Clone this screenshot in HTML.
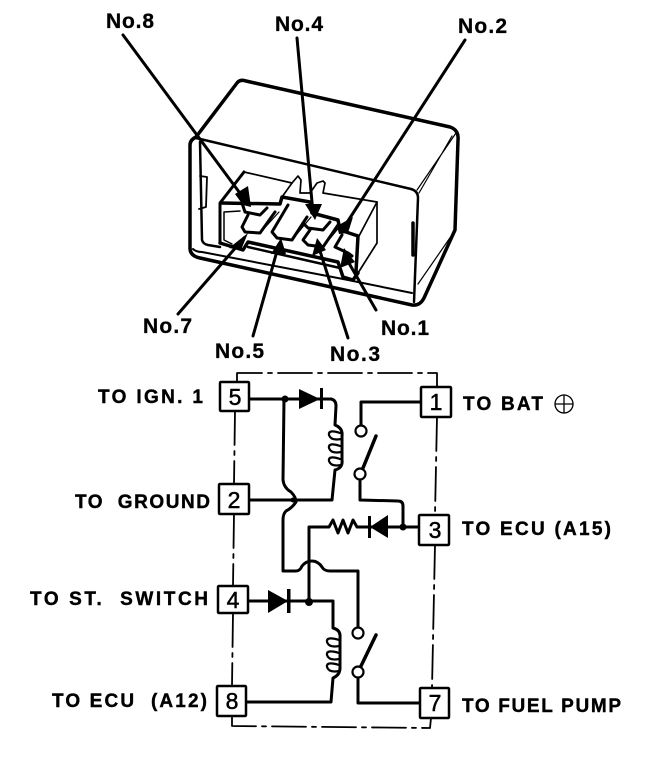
<!DOCTYPE html>
<html><head><meta charset="utf-8"><style>
html,body{margin:0;padding:0;background:#fff}
svg{display:block}
text{font-family:"Liberation Sans",sans-serif;font-weight:bold;fill:#000}
.l{font-size:19px;stroke:#000;stroke-width:.4}
.m{font-size:21px;stroke:#000;stroke-width:.3}
.n{font-size:23px;font-weight:normal;text-anchor:middle;stroke:#000;stroke-width:.5}
path,polyline,line,rect,circle{stroke-linejoin:round;stroke-linecap:round}
</style></head><body>
<svg width="672" height="760" viewBox="0 0 672 760" xmlns="http://www.w3.org/2000/svg">
<rect width="672" height="760" fill="#fff"/>
<!-- housing -->
<g fill="none" stroke="#000">
<path stroke-width="3.5" d="M196 137L237 83Q240 79 246 81L450 127Q459 130 458 140L455 230L424 298Q420 306 412 305L200 258Q190 256 190 248L190 145Q190 140 196 137Z"/>
<path stroke-width="2.5" d="M196 138L411 189Q418 191 418 198L414 302"/>
<path stroke-width="1.2" d="M417 190L456 133M419 193L452 136M418 284L454 232"/>
<path stroke-width="2.5" d="M200 142L202 240Q203 244 208 245L220 247"/>
<path stroke-width="2" d="M193 249Q196 252 202 252L343 279L412 293"/>
<path stroke-width="1.8" d="M200 176L207 177L206 207L199 209"/>
<path stroke-width="3.5" d="M413 223L413 255"/>
<path stroke-width="3.5" d="M220 243L243 250L248 242L338 262L343 277L353 280L358 273"/>
<path stroke-width="2.5" d="M248 247L340 268"/>
<!-- connector -->
<path stroke-width="3" d="M220 243L220 203L244 172"/>
<path stroke-width="1.7" d="M244 172L292 183L298 176L301 180L300 193L310 193"/>
<path stroke-width="1.7" d="M282 197L292 183"/>
<path stroke-width="1.7" d="M310 193L317 183L323 181L325 183L323 193L377 202L377 243L358 273"/>
<path stroke-width="1.7" d="M359 236L377 202"/>
<path stroke-width="3.5" d="M221 203L280 204L282 197L310 202L312 213L338 220L340 230L358 236L356 272"/>
<path stroke-width="1.5" d="M224 212L240 211M224 212L224 240L232 244"/>
<!-- pins -->
<path stroke-width="3" d="M242 203L245 212L260 215L267 208"/>
<path stroke-width="3" d="M248 215L242 227L245 232L260 233L275 212"/>
<path stroke-width="3" d="M288 205L272 232L277 238L292 240L307 217"/>
<path stroke-width="3" d="M303 223L308 228L323 230L330 222"/>
<path stroke-width="3" d="M310 230L303 240L308 245L323 247L338 225"/>
<path stroke-width="3" d="M342 235L335 247L348 253L352 256"/>
<path stroke-width="1.2" d="M260 233L279 212M292 240L311 217M323 247L341 225"/>
<!-- leaders -->
<path stroke-width="3" d="M123 35L245 200M297 38L313 213M465 40L346 224M178 314L244 238M253 336L279 244M348 338L319 248M376 310L346 258"/>
</g>
<g fill="#000">
<polygon points="235,194 248,186 251,207 243,205"/>
<polygon points="305,204 322,204 315,220"/>
<polygon points="337,226 353,217 348,233 339,234"/>
<polygon points="229,248 248,233 241,250"/>
<polygon points="271,254 286,254 281,238"/>
<polygon points="312,256 326,250 317,238"/>
<polygon points="340,268 355,262 344,248"/>
</g>
<!-- labels -->
<g>
<text class="m" x="106" y="28" textLength="48">No.8</text>
<text class="m" x="275" y="31" textLength="48">No.4</text>
<text class="m" x="458" y="33" textLength="49">No.2</text>
<text class="m" x="143" y="333" textLength="49">No.7</text>
<text class="m" x="215" y="358" textLength="49">No.5</text>
<text class="m" x="330" y="361" textLength="50">No.3</text>
<text class="m" x="381" y="335" textLength="48">No.1</text>
<text class="l" x="98" y="403" textLength="105">TO IGN. 1</text>
<text class="l" x="75" y="508" textLength="135" xml:space="preserve">TO  GROUND</text>
<text class="l" x="30" y="605" textLength="178" xml:space="preserve">TO ST.  SWITCH</text>
<text class="l" x="52" y="707" textLength="155" xml:space="preserve">TO ECU  (A12)</text>
<text class="l" x="463" y="410" textLength="80">TO BAT</text>
<text class="l" x="462" y="535" textLength="149">TO ECU (A15)</text>
<text class="l" x="462" y="712" textLength="159">TO FUEL PUMP</text>
</g>
<g fill="none" stroke="#000" stroke-width="1.3"><circle cx="564" cy="404" r="9"/><path d="M555 404H573M564 395V413"/></g>
<!-- dash-dot outline -->
<g fill="none" stroke="#000" stroke-width="1.8" stroke-dasharray="34 6 4 6">
<path d="M237 382L237 373L437 373L437 387"/>
<path d="M235 411L234 484"/>
<path d="M234 514L233 586"/>
<path d="M233 613L232 686"/>
<path d="M437 417L435 515"/>
<path d="M435 545L432 688"/>
<path d="M232 716L232 726L430 728L431 718"/>
</g>
<!-- circuit -->
<g fill="none" stroke="#000" stroke-width="3">
<path d="M249 399H321L331 399Q336 400 336 406L335 425Q343 428 342 436L342 460Q343 468 335 470L332 500H249"/>
<path d="M284 399L283 480Q284 488 291 492Q296 497 296 502Q292 508 286 511Q283 514 283 520L283 571H296Q300 571 302 566Q306 561 312 561Q318 561 322 567Q324 571 330 571H358V627"/>
<path d="M309 602L309 527H325L329 527L333 520L338 533L343 520L348 533L353 520L357 527L369 527"/>
<path d="M369 527H419"/>
<path d="M403 527L403 506Q403 501 398 501L360 500V480"/>
<path d="M361 425V402H421"/>
<path d="M363 468L376 436" stroke-width="3.5"/>
<path d="M248 601H333V628Q341 630 340 638L340 668Q340 675 333 678L331 702H246"/>
<path d="M361 666L376 635" stroke-width="3.5"/>
<path d="M358 678V703H420"/>
<path stroke-width="2.2" d="M340 433Q328 429 329 435Q331 441 341 439M340 446Q328 442 329 448Q331 454 341 452M340 459Q328 455 329 461Q331 467 341 465"/>
<path stroke-width="2.2" d="M339 640Q326 636 327 642Q329 648 339 646M339 653Q326 649 327 655Q329 661 339 659M339 665Q326 661 327 667Q329 673 339 671"/>
<circle cx="361" cy="431" r="5.5" fill="#fff" stroke-width="2.2"/>
<circle cx="360" cy="474" r="5.5" fill="#fff" stroke-width="2.2"/>
<circle cx="358" cy="633" r="5.5" fill="#fff" stroke-width="2.2"/>
<circle cx="358" cy="672" r="5.5" fill="#fff" stroke-width="2.2"/>
</g>
<g fill="#000">
<circle cx="285" cy="399" r="3.5"/><circle cx="403" cy="527" r="3.5"/><circle cx="309" cy="602" r="4"/><circle cx="293" cy="500" r="2.5"/>
<polygon points="299,389 299,409 320,399"/><rect x="320" y="388" width="3" height="21"/>
<polygon points="388,515 388,538 370,527"/><rect x="368" y="516" width="3" height="22"/>
<polygon points="268,590 268,613 288,601"/><rect x="287" y="589" width="3.5" height="24"/>
</g>
<!-- terminal boxes -->
<g fill="#fff" stroke="#000" stroke-width="2.5">
<rect x="220" y="382" width="29" height="29" rx="1"/>
<rect x="219" y="484" width="30" height="30" rx="1"/>
<rect x="218" y="586" width="30" height="27" rx="1"/>
<rect x="217" y="686" width="29" height="30" rx="1"/>
<rect x="421" y="387" width="30" height="30" rx="1"/>
<rect x="419" y="515" width="30" height="30" rx="1"/>
<rect x="420" y="688" width="29" height="30" rx="1"/>
</g>
<text class="n" x="235" y="405">5</text>
<text class="n" x="234" y="508">2</text>
<text class="n" x="233" y="608">4</text>
<text class="n" x="232" y="709">8</text>
<text class="n" x="436" y="410">1</text>
<text class="n" x="435" y="538">3</text>
<text class="n" x="435" y="711">7</text>
</svg>
</body></html>
